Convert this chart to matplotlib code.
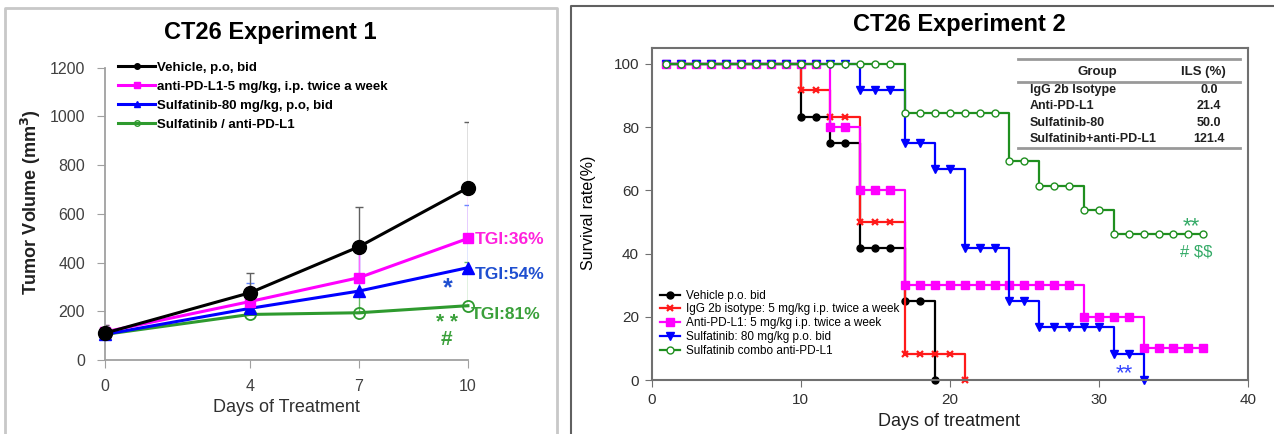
import matplotlib
matplotlib.use("Agg")
import matplotlib.pyplot as plt
from matplotlib.lines import Line2D

plt.rcParams['font.family'] = ['Liberation Sans', 'DejaVu Sans']

# ---- Experiment 1: tumor volume ----
days1 = [0, 4, 7, 10]
vehicle_vol = [110, 276, 465, 707]
antipd_vol = [115, 240, 338, 499]
sulf_vol = [105, 212, 283, 379]
combo_vol = [105, 187, 194, 223]
vehicle_err = [35, 80, 165, 270]
antipd_err = [30, 60, 120, 200]
sulf_err = [30, 104, 175, 257]
combo_err = [25, 40, 90, 180]
labels1 = ['Vehicle, p.o, bid',
           'anti-PD-L1-5 mg/kg, i.p. twice a week',
           'Sulfatinib-80 mg/kg, p.o, bid',
           'Sulfatinib / anti-PD-L1']
tgi_text = ['TGI:36%', 'TGI:54%', 'TGI:81%']

# ---- Experiment 2: survival (value at each day, starting at day 1) ----
vehicle_surv = [100, 100, 100, 100, 100, 100, 100, 100, 100,
                83.3, 83.3, 75, 75, 41.7, 41.7, 41.7, 25, 25, 0]
igg_surv = [100, 100, 100, 100, 100, 100, 100, 100, 100,
            91.7, 91.7, 83.3, 83.3, 50, 50, 50, 8.3, 8.3, 8.3, 8.3, 0]
antipd_surv = [100, 100, 100, 100, 100, 100, 100, 100, 100, 100, 100,
               80, 80, 60, 60, 60,
               30, 30, 30, 30, 30, 30, 30, 30, 30, 30, 30, 30,
               20, 20, 20, 20, 10, 10, 10, 10, 10]
sulf_surv = [100, 100, 100, 100, 100, 100, 100, 100, 100, 100, 100, 100, 100,
             91.7, 91.7, 91.7, 75, 75, 66.7, 66.7, 41.7, 41.7, 41.7,
             25, 25, 16.7, 16.7, 16.7, 16.7, 16.7, 8.3, 8.3, 0]
combo_surv = [100, 100, 100, 100, 100, 100, 100, 100, 100, 100, 100, 100, 100,
              100, 100, 100,
              84.6, 84.6, 84.6, 84.6, 84.6, 84.6, 84.6, 69.2, 69.2,
              61.5, 61.5, 61.5, 53.8, 53.8,
              46.2, 46.2, 46.2, 46.2, 46.2, 46.2, 46.2]
labels2 = ['Vehicle p.o. bid',
           'IgG 2b isotype: 5 mg/kg i.p. twice a week',
           'Anti-PD-L1: 5 mg/kg i.p. twice a week',
           'Sulfatinib: 80 mg/kg p.o. bid',
           'Sulfatinib combo anti-PD-L1']
table_groups = ['IgG 2b Isotype', 'Anti-PD-L1', 'Sulfatinib-80', 'Sulfatinib+anti-PD-L1']
table_ils = ['0.0', '21.4', '50.0', '121.4']

fig = plt.figure(figsize=(12.74, 4.34), dpi=100)

# panel borders
fig.add_artist(Line2D([5/1274, 5/1274, 557/1274, 557/1274], [0, 1-8/434, 1-8/434, 0],
                      transform=fig.transFigure, color='#c8c8c8', lw=2))
fig.add_artist(Line2D([571/1274, 571/1274, 1], [0, 1-6/434, 1-6/434],
                      transform=fig.transFigure, color='#606060', lw=1.5))

# ================= left chart =================
ax1 = fig.add_axes([0.0821, 0.1705, 0.2852, 0.6735])
zero = [0, 0, 0, 0]
ax1.errorbar(days1, combo_vol, yerr=[zero, combo_err], fmt='none', ecolor='#66bb66', elinewidth=1, capsize=3, zorder=1)
ax1.errorbar(days1, sulf_vol, yerr=[zero, sulf_err], fmt='none', ecolor='#6688ff', elinewidth=1, capsize=3, zorder=1)
ax1.errorbar(days1, antipd_vol, yerr=[zero, antipd_err], fmt='none', ecolor='#ff66ff', elinewidth=1, capsize=3, zorder=1)
ax1.errorbar(days1, vehicle_vol, yerr=[zero, vehicle_err], fmt='none', ecolor='#606060', elinewidth=1, capsize=3, zorder=1)

ax1.plot(days1, combo_vol, color='#2e9a2e', lw=2.2, marker='o', ms=8, mfc='none', mew=1.3, clip_on=False, zorder=3)
ax1.plot(days1, sulf_vol, color='#0000ff', lw=2.2, marker='^', ms=8, clip_on=False, zorder=4)
ax1.plot(days1, antipd_vol, color='#ff00ff', lw=2.2, marker='s', ms=6.5, clip_on=False, zorder=5)
ax1.plot(days1, vehicle_vol, color='black', lw=2.2, marker='o', ms=10, clip_on=False, zorder=6)

handles1 = [Line2D([], [], color='black', lw=2.2, marker='o', ms=4),
            Line2D([], [], color='#ff00ff', lw=2.2, marker='s', ms=4),
            Line2D([], [], color='#0000ff', lw=2.2, marker='^', ms=4),
            Line2D([], [], color='#2e9a2e', lw=2.2, marker='o', ms=4, mfc='none')]
ax1.legend(handles1, labels1, loc='upper left', bbox_to_anchor=(0.037, 1.022), frameon=False,
           borderpad=0, borderaxespad=0, handlelength=2.8, handletextpad=0.15, labelspacing=0.52,
           prop={'weight': 'bold', 'size': 9.5})

ax1.text(10.19, 493, tgi_text[0], color='#ff22dd', fontsize=12.5, fontweight='bold', va='center', ha='left', clip_on=False)
ax1.text(10.19, 353, tgi_text[1], color='#1f4fd0', fontsize=12.5, fontweight='bold', va='center', ha='left', clip_on=False)
ax1.text(10.08, 185, tgi_text[2], color='#3aa03a', fontsize=12.5, fontweight='bold', va='center', ha='left', clip_on=False)
ax1.text(9.45, 296, '*', color='#1f4fd0', fontsize=18, fontweight='bold', ha='center', va='center')
ax1.text(9.42, 118, '* *\n#', color='#3aa03a', fontsize=15, fontweight='bold', ha='center', va='center',
         linespacing=0.85)

ax1.set_xlim(0, 10)
ax1.set_ylim(0, 1200)
ax1.set_xticks(days1)
ax1.set_yticks([0, 200, 400, 600, 800, 1000, 1200])
for s in ['top', 'right']:
    ax1.spines[s].set_visible(False)
for s in ['left', 'bottom']:
    ax1.spines[s].set_color('#a0a0a0')
    ax1.spines[s].set_linewidth(1.3)
ax1.tick_params(direction='out', length=6, color='#a0a0a0', labelsize=11.5, labelcolor='#404040', pad=8)

fig.text(270/1274, 1-33/434, 'CT26 Experiment 1', ha='center', va='center', fontsize=17, fontweight='bold')
fig.text(31/1274, 1-202/434, 'Tumor Volume (mm$^\\mathbf{3}$)', rotation=90, ha='center', va='center',
         fontsize=13, fontweight='bold', color='#202020')
fig.text(286/1274, 1-408/434, 'Days of Treatment', ha='center', va='center', fontsize=13, color='#303030')

# ================= right chart =================
ax2 = fig.add_axes([0.5114, 0.1244, 0.4682, 0.765])
series2 = [(vehicle_surv, 'black', 'o', dict(ms=5)),
           (igg_surv, '#ff1a1a', 'x', dict(ms=5, mew=1.6)),
           (antipd_surv, '#ff00ff', 's', dict(ms=5.5)),
           (sulf_surv, '#0000ff', 'v', dict(ms=5.5)),
           (combo_surv, '#1f8f1f', 'o', dict(ms=5, mfc='white', mew=1))]
handles2 = []
for vals, col, mk, kw in series2:
    d = list(range(1, len(vals) + 1))
    ax2.plot(d, vals, color=col, lw=1.6, drawstyle='steps-post', clip_on=False)
    ax2.plot(d, vals, color=col, lw=0, marker=mk, clip_on=False, **kw)
    handles2.append(Line2D([], [], color=col, lw=1.6, marker=mk, **kw))

ax2.legend(handles2, labels2, loc='upper left', bbox_to_anchor=(0.014, 0.272), frameon=False,
           borderpad=0, borderaxespad=0, handlelength=1.7, handletextpad=0.5, labelspacing=0.15,
           prop={'size': 8.5})

ax2.text(36.2, 48.5, '**', color='#33aa66', fontsize=16, ha='center', va='center')
ax2.text(36.5, 40.5, '# \\$\\$', color='#33aa66', fontsize=12, ha='center', va='center')
ax2.text(31.7, 2, '**', color='#3344ff', fontsize=16, ha='center', va='center')

# ILS table
tr = ax2.transAxes
ax2.plot([0.614, 0.986], [0.967, 0.967], transform=tr, color='#999999', lw=2)
ax2.plot([0.614, 0.986], [0.898, 0.898], transform=tr, color='#999999', lw=2)
ax2.plot([0.614, 0.986], [0.699, 0.699], transform=tr, color='#999999', lw=2)
ax2.text(0.747, 0.928, 'Group', transform=tr, ha='center', va='center', fontsize=9.5, fontweight='bold', color='#202020')
ax2.text(0.926, 0.928, 'ILS (%)', transform=tr, ha='center', va='center', fontsize=9.5, fontweight='bold', color='#202020')
for i, (g, v) in enumerate(zip(table_groups, table_ils)):
    yy = 0.874 - i * 0.0495
    ax2.text(0.634, yy, g, transform=tr, ha='left', va='center', fontsize=9, fontweight='bold', color='#202020')
    ax2.text(0.935, yy, v, transform=tr, ha='center', va='center', fontsize=9, fontweight='bold', color='#202020')

ax2.set_xlim(0, 40)
ax2.set_ylim(0, 105)
ax2.set_xticks([0, 10, 20, 30, 40])
ax2.set_yticks([0, 20, 40, 60, 80, 100])
for s in ax2.spines.values():
    s.set_color('#707070')
    s.set_linewidth(1.5)
ax2.tick_params(direction='out', length=5, color='#707070', labelsize=11, labelcolor='#303030', pad=4)

fig.text(959/1274, 1-25/434, 'CT26 Experiment 2', ha='center', va='center', fontsize=17, fontweight='bold')
fig.text(589/1274, 1-213/434, 'Survival rate(%)', rotation=90, ha='center', va='center', fontsize=11.5)
fig.text(949/1274, 1-421/434, 'Days of treatment', ha='center', va='center', fontsize=13, color='#202020')

fig.savefig('out.png', dpi=100)
